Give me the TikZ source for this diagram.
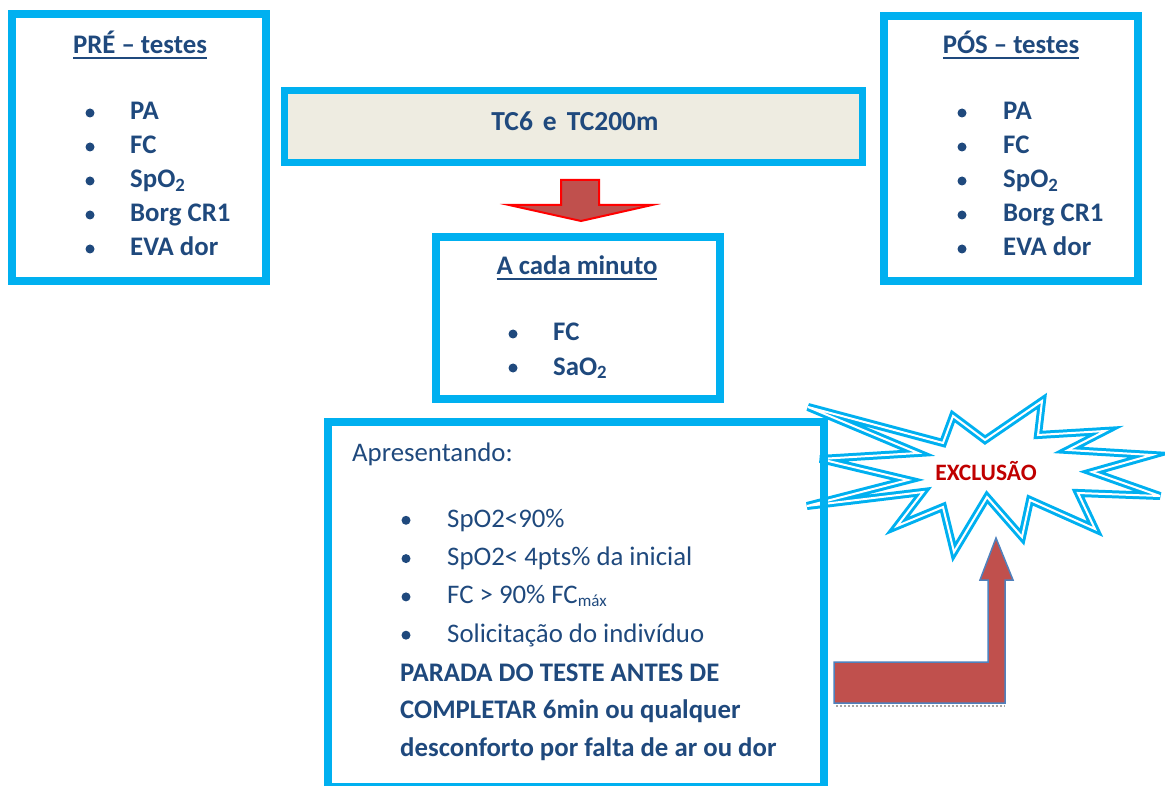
\documentclass[tikz,border=0pt]{standalone}
\usepackage{fontspec}
\setmainfont{Carlito}
\usetikzlibrary{positioning}

\definecolor{boxblue}{RGB}{0,176,240}
\definecolor{txtblue}{RGB}{31,73,125}
\definecolor{arrowred}{RGB}{192,80,77}
\definecolor{paper}{RGB}{238,236,225}
\definecolor{exclred}{RGB}{192,0,0}
\definecolor{edgeblue}{RGB}{79,129,189}

\newcommand{\ul}[1]{\setbox0\hbox{#1}\rlap{\rule[-5pt]{\wd0}{1.8pt}}\box0}

\begin{document}
\begin{tikzpicture}[x=1pt,y=-1pt,
	frame/.style={draw=boxblue,line width=8pt,inner sep=0pt},
	title/.style={font=\fontsize{26.8}{30}\selectfont\bfseries,text=txtblue,anchor=base,inner sep=0pt},
	item/.style={font=\fontsize{26.8}{30}\selectfont\bfseries,text=txtblue,anchor=base west,inner sep=0pt},
	plain item/.style={font=\fontsize{26.8}{30}\selectfont,text=txtblue,anchor=base west,inner sep=0pt},
	dot/.style={circle,fill=txtblue,inner sep=0pt,minimum size=9pt}]

	\useasboundingbox (0,0) rectangle (1165,786);

	% starburst first, the big frame is drawn over its left spikes
	\draw[boxblue,line width=3pt,double=white,double distance=2pt,fill=white,miter limit=6]
	(808,407) -- (943,443) -- (953,416) -- (985,440) -- (1042,401) -- (1038,435)
	-- (1105,431) -- (1068,450) -- (1152,455) -- (1092,472) -- (1160,496)
	-- (1078,493) -- (1095,529) -- (1030,500) -- (1022,537) -- (987,497)
	-- (954,552) -- (943,507) -- (897,526) -- (923,492) -- (807,506)
	-- (908,480) -- (820,459) -- (918,453) -- cycle;
	\node[font=\fontsize{23.5}{27}\selectfont\bfseries,text=exclred] (excl) at (986,471) {EXCLUSÃO};

	% frames
	\node[frame,minimum width=254pt,minimum height=267pt] (pre) at (139,147.5) {};
	\node[frame,minimum width=254pt,minimum height=265pt] (pos) at (1011,148.5) {};
	\node[frame,line width=7pt,fill=paper,minimum width=578pt,minimum height=72pt] (tc) at (573.5,127) {};
	\node[frame,minimum width=284pt,minimum height=162pt] (cada) at (578,318) {};
	\node[frame,minimum width=496pt,minimum height=365pt] (apres) at (576,604.5) {};

	% titles
	\node[title] (pretit) at (140,54) {\ul{PRÉ – testes}};
	\node[title] (postit) at (1011,54) {\ul{PÓS – testes}};
	\node[title,font=\fontsize{27.5}{30}\selectfont\bfseries] (tctit) at (575,131) {TC6\hspace{10pt}e\hspace{10pt}TC200m};
	\node[title] (cadatit) at (577,275) {\ul{A cada minuto}};

	% lists
	\foreach \txt [count=\i] in {PA,FC,SpO\textsubscript{2},Borg CR1,EVA dor} {
		\node[item] (pre\i) at (130,{86+34*\i}) {\txt};
		\node[dot] at (90,{79+34*\i}) {};
		\node[item] (pos\i) at (1003,{86+34*\i}) {\txt};
		\node[dot] at (962,{79+34*\i}) {};
	}
	\foreach \txt [count=\i] in {FC,SaO\textsubscript{2}} {
		\node[item] (cada\i) at (553,{307+34*\i}) {\txt};
		\node[dot] at (513,{300+34*\i}) {};
	}

	\node[plain item] (apr) at (352,461) {Apresentando:};
	\foreach \txt [count=\i] in {SpO2<90\%,SpO2< 4pts\% da inicial,FC > 90\% FC\raisebox{-3pt}{\fontsize{17}{20}\selectfont máx},Solicitação do indivíduo} {
		\node[plain item] (apr\i) at (447,{489+38.3*\i}) {\txt};
		\node[dot] at (406,{482+38.3*\i}) {};
	}
	\node[item] (stop1) at (400,681) {PARADA DO TESTE ANTES DE};
	\node[item] (stop2) at (400,718) {COMPLETAR 6min ou qualquer};
	\node[item] (stop3) at (400,756) {desconforto por falta de ar ou dor};

	% block arrows
	\draw[red,line width=2pt,fill=arrowred]
	(561,180) -- (599,180) -- (599,205) -- (652,205) -- (581,221)
	-- (509,205) -- (561,205) -- cycle;
	\draw[gray!70,line width=2pt,dotted] (836,706) -- (1005,706);
	\draw[edgeblue,line width=1.5pt,fill=arrowred]
	(834,662) -- (988,662) -- (988,580) -- (980,580) -- (996,538)
	-- (1013,580) -- (1005,580) -- (1005,703) -- (834,703) -- cycle;
\end{tikzpicture}
\end{document}
